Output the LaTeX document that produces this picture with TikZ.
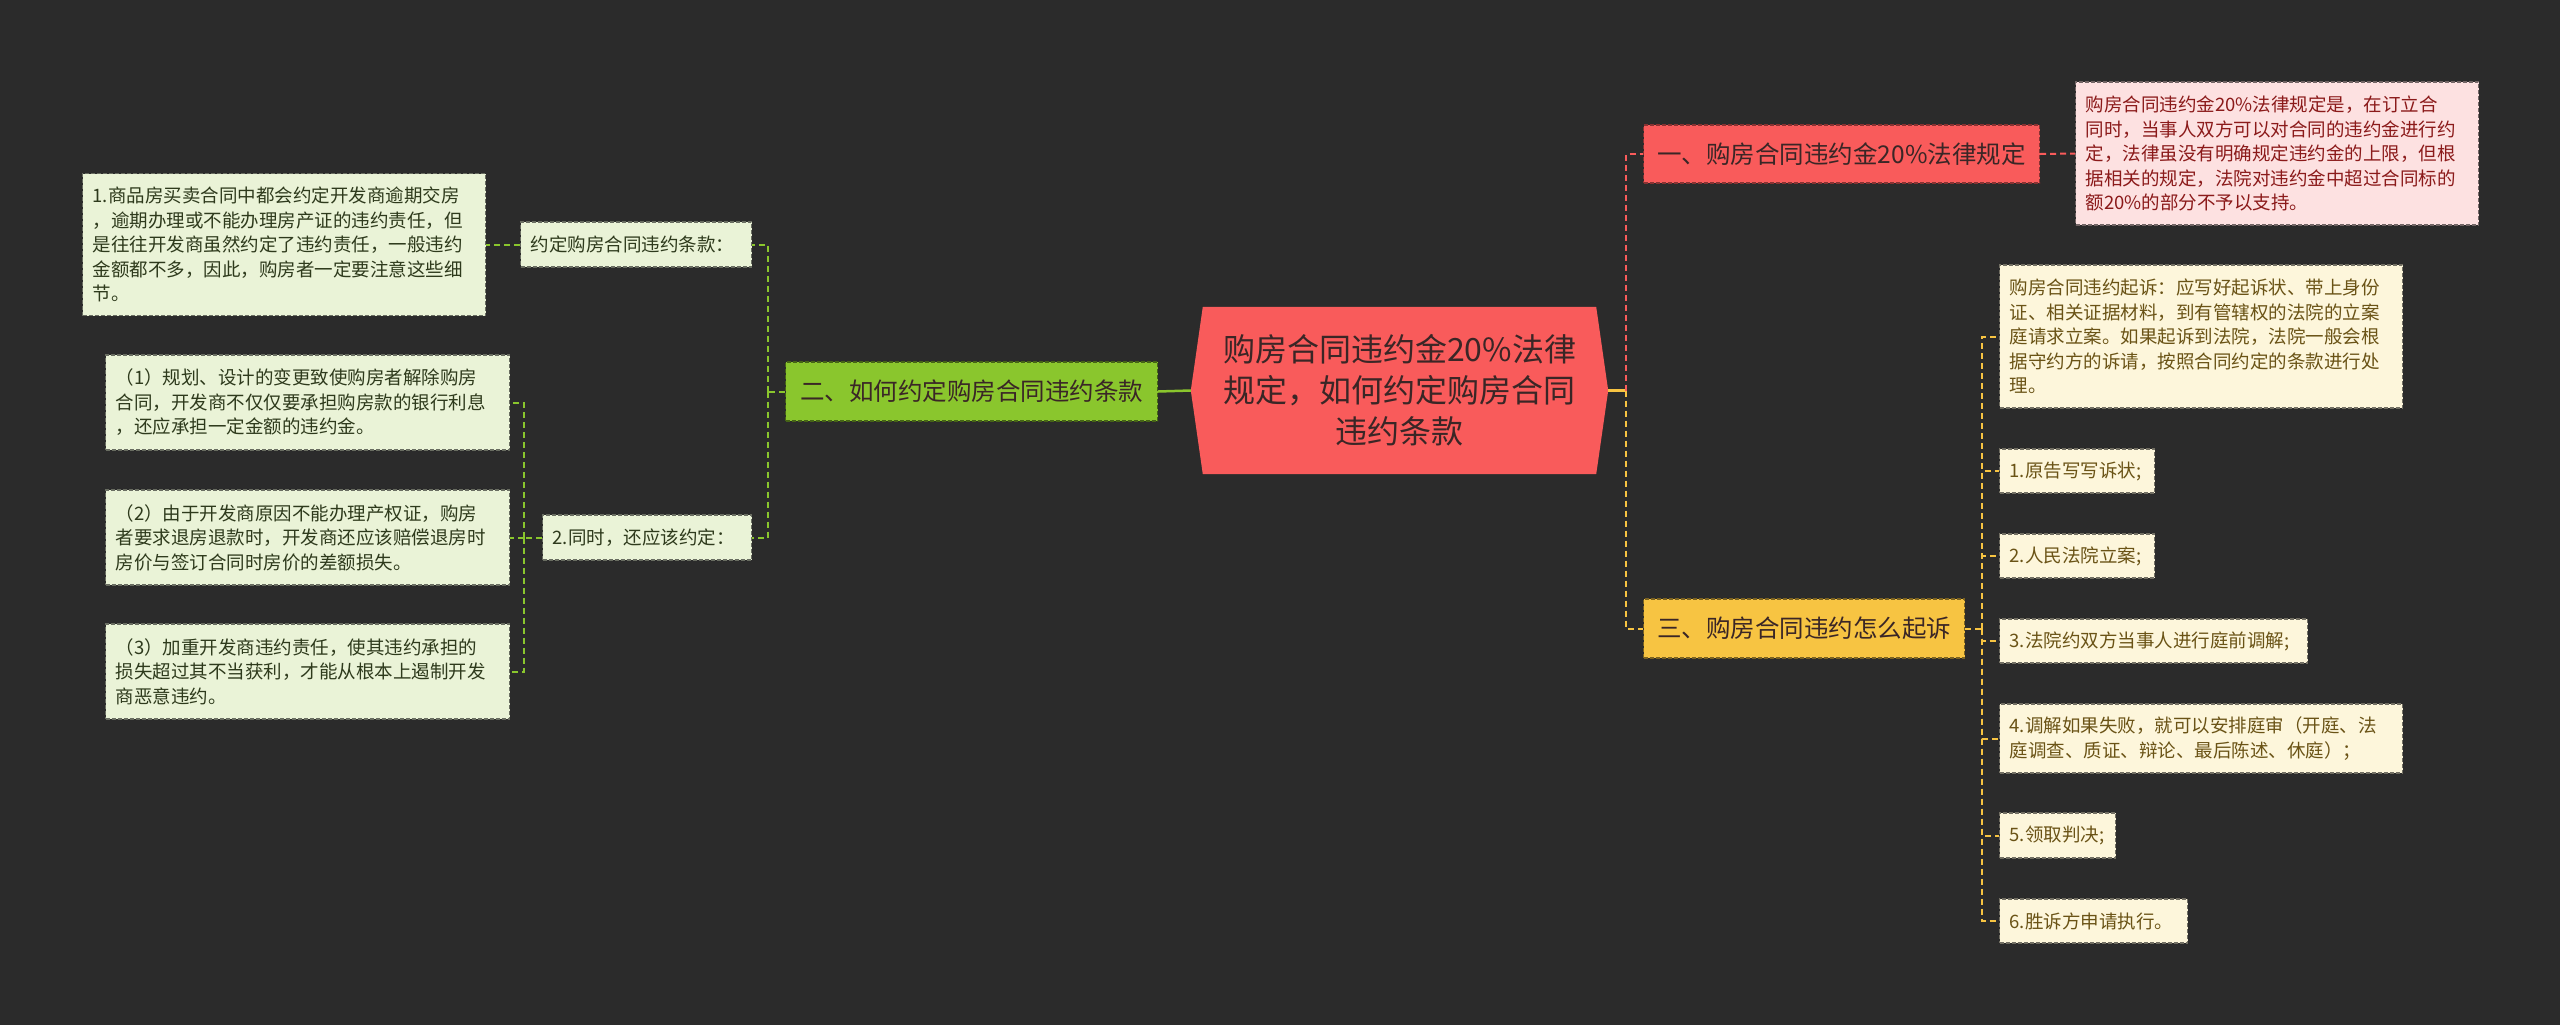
\documentclass[tikz,border=0pt]{standalone}
\usepackage{fontspec}
\setmainfont{Noto Sans CJK SC}
\pgfdeclarelayer{back}
\pgfsetlayers{back,main}
\definecolor{bgc}{HTML}{2B2B2B}
\definecolor{redn}{HTML}{F95B5B}
\definecolor{greenn}{HTML}{8AC62D}
\definecolor{yellown}{HTML}{F7C442}
\definecolor{gfill}{HTML}{EAF3D7}
\definecolor{pfill}{HTML}{FDE1E1}
\definecolor{yfill}{HTML}{FDF6DB}
\definecolor{gtext}{HTML}{2E3A1C}
\definecolor{ptext}{HTML}{8B1A1A}
\definecolor{ytext}{HTML}{6A5316}
\definecolor{darktext}{HTML}{3A2626}
\tikzset{
  boxbase/.style={rectangle, anchor=west, inner xsep=10pt, inner ysep=0pt,
    line width=1.2pt, dash pattern=on 4pt off 2pt, align=left},
  smallfont/.style={font=\fontsize{18.5}{24.5}\selectfont},
  gbox/.style={boxbase, smallfont, fill=gfill, draw=gfill!45!black, text=gtext},
  pbox/.style={boxbase, smallfont, fill=pfill, draw=pfill!45!black, text=ptext},
  ybox/.style={boxbase, smallfont, fill=yfill, draw=yfill!45!black, text=ytext},
  mainnode/.style={boxbase, align=center, font=\fontsize{24.5}{30}\selectfont, text=darktext},
  central/.style={rectangle, inner sep=0pt, minimum width=393pt, minimum height=167pt,
    align=center, text=darktext, font=\fontsize{32}{41}\selectfont},
  connbase/.style={line width=2pt, dash pattern=on 6pt off 4pt},
  connG/.style={connbase, draw=greenn},
  connR/.style={connbase, draw=redn},
  connY/.style={connbase, draw=yellown},
  solidG/.style={line width=2.5pt, draw=greenn},
  solidY/.style={line width=2.5pt, draw=yellown},
}
\begin{document}
\begin{tikzpicture}[x=1pt,y=-1pt]
\useasboundingbox (0,0) rectangle (2560,1025);
\begin{pgfonlayer}{back}
\fill[bgc] (0,0) rectangle (2560,1025);
\end{pgfonlayer}

% central
\node[central] (c) at (1399.5,390.5) {购房合同违约金20\%法律\\规定，如何约定购房合同\\违约条款};
\begin{pgfonlayer}{back}
\fill[redn] (c.north west) -- (c.north east) -- ([xshift=12pt]c.east) -- (c.south east)
  -- (c.south west) -- ([xshift=-12pt]c.west) -- cycle;
\end{pgfonlayer}

% main branches
\node[mainnode, fill=redn, draw=redn!55!black, minimum width=396pt, minimum height=58pt] (n1) at (1643,154) {一、购房合同违约金20\%法律规定};
\node[mainnode, fill=greenn, draw=greenn!50!black, minimum width=372pt, minimum height=59pt] (n2) at (785,391.5) {二、如何约定购房合同违约条款};
\node[mainnode, fill=yellown, draw=yellown!50!black, minimum width=321pt, minimum height=59pt] (n3) at (1643,628.5) {三、购房合同违约怎么起诉};

% branch 1 leaf
\node[pbox, text width=383pt, minimum height=143pt] (p1) at (2075,153.5) {购房合同违约金20\%法律规定是，在订立合\\同时，当事人双方可以对合同的违约金进行约\\定，法律虽没有明确规定违约金的上限，但根\\据相关的规定，法院对违约金中超过合同标的\\额20\%的部分不予以支持。};

% branch 3 leaves
\node[ybox, text width=383pt, minimum height=143pt] (y1) at (1999,336.5) {购房合同违约起诉：应写好起诉状、带上身份\\证、相关证据材料，到有管辖权的法院的立案\\庭请求立案。如果起诉到法院，法院一般会根\\据守约方的诉请，按照合同约定的条款进行处\\理。};
\node[ybox, text width=135pt, minimum height=44pt] (y2) at (1999,471) {1.原告写写诉状;};
\node[ybox, text width=135pt, minimum height=44pt] (y3) at (1999,556) {2.人民法院立案;};
\node[ybox, text width=288pt, minimum height=44pt] (y4) at (1999,641) {3.法院约双方当事人进行庭前调解;};
\node[ybox, text width=383pt, minimum height=69pt] (y5) at (1999,738.5) {4.调解如果失败，就可以安排庭审（开庭、法\\庭调查、质证、辩论、最后陈述、休庭）；};
\node[ybox, text width=96pt, minimum height=45pt] (y6) at (1999,835.5) {5.领取判决;};
\node[ybox, text width=168pt, minimum height=44pt] (y7) at (1999,921) {6.胜诉方申请执行。};

% branch 2 leaves
\node[gbox, text width=211pt, minimum height=45pt] (g1) at (520,244.5) {约定购房合同违约条款：};
\node[gbox, text width=189pt, minimum height=45pt] (g2) at (542,537.5) {2.同时，还应该约定：};
\node[gbox, text width=383pt, minimum height=142pt] (ga) at (82,244.5) {1.商品房买卖合同中都会约定开发商逾期交房\\，逾期办理或不能办理房产证的违约责任，但\\是往往开发商虽然约定了违约责任，一般违约\\金额都不多，因此，购房者一定要注意这些细\\节。};
\node[gbox, text width=384pt, minimum height=95pt] (gb) at (105,402.5) {（1）规划、设计的变更致使购房者解除购房\\合同，开发商不仅仅要承担购房款的银行利息\\，还应承担一定金额的违约金。};
\node[gbox, text width=384pt, minimum height=95pt] (gc) at (105,537.5) {（2）由于开发商原因不能办理产权证，购房\\者要求退房退款时，开发商还应该赔偿退房时\\房价与签订合同时房价的差额损失。};
\node[gbox, text width=384pt, minimum height=95pt] (gd) at (105,671.5) {（3）加重开发商违约责任，使其违约承担的\\损失超过其不当获利，才能从根本上遏制开发\\商恶意违约。};

% junction columns
\coordinate (vL) at (768,0);
\coordinate (vLL) at (524,0);
\coordinate (vR) at (1626,0);
\coordinate (vRR) at (1982,0);

% connectors: centre
\draw[solidG] (n2.east) -- ([xshift=-12pt]c.west);
\draw[solidY] ([xshift=12pt]c.east) -- (c.east -| vR);
\draw[connR] (c.east -| vR) |- (n1.west);
\draw[connY] (c.east -| vR) |- (n3.west);

% branch 1
\draw[connR] (n1.east) -- (p1.west);

% branch 3
\draw[connY] (n3.east) -- (n3.east -| vRR);
\foreach \k in {y1,y2,y3,y4,y5,y6,y7}{
  \draw[connY] (n3.east -| vRR) |- (\k.west);
}

% branch 2
\draw[connG] (n2.west) -- (n2.west -| vL);
\draw[connG] (n2.west -| vL) |- (g1.east);
\draw[connG] (n2.west -| vL) |- (g2.east);
\draw[connG] (g1.west) -- (ga.east);
\draw[connG] (g2.west) -- (g2.west -| vLL);
\foreach \k in {gb,gc,gd}{
  \draw[connG] (g2.west -| vLL) |- (\k.east);
}
\end{tikzpicture}
\end{document}
